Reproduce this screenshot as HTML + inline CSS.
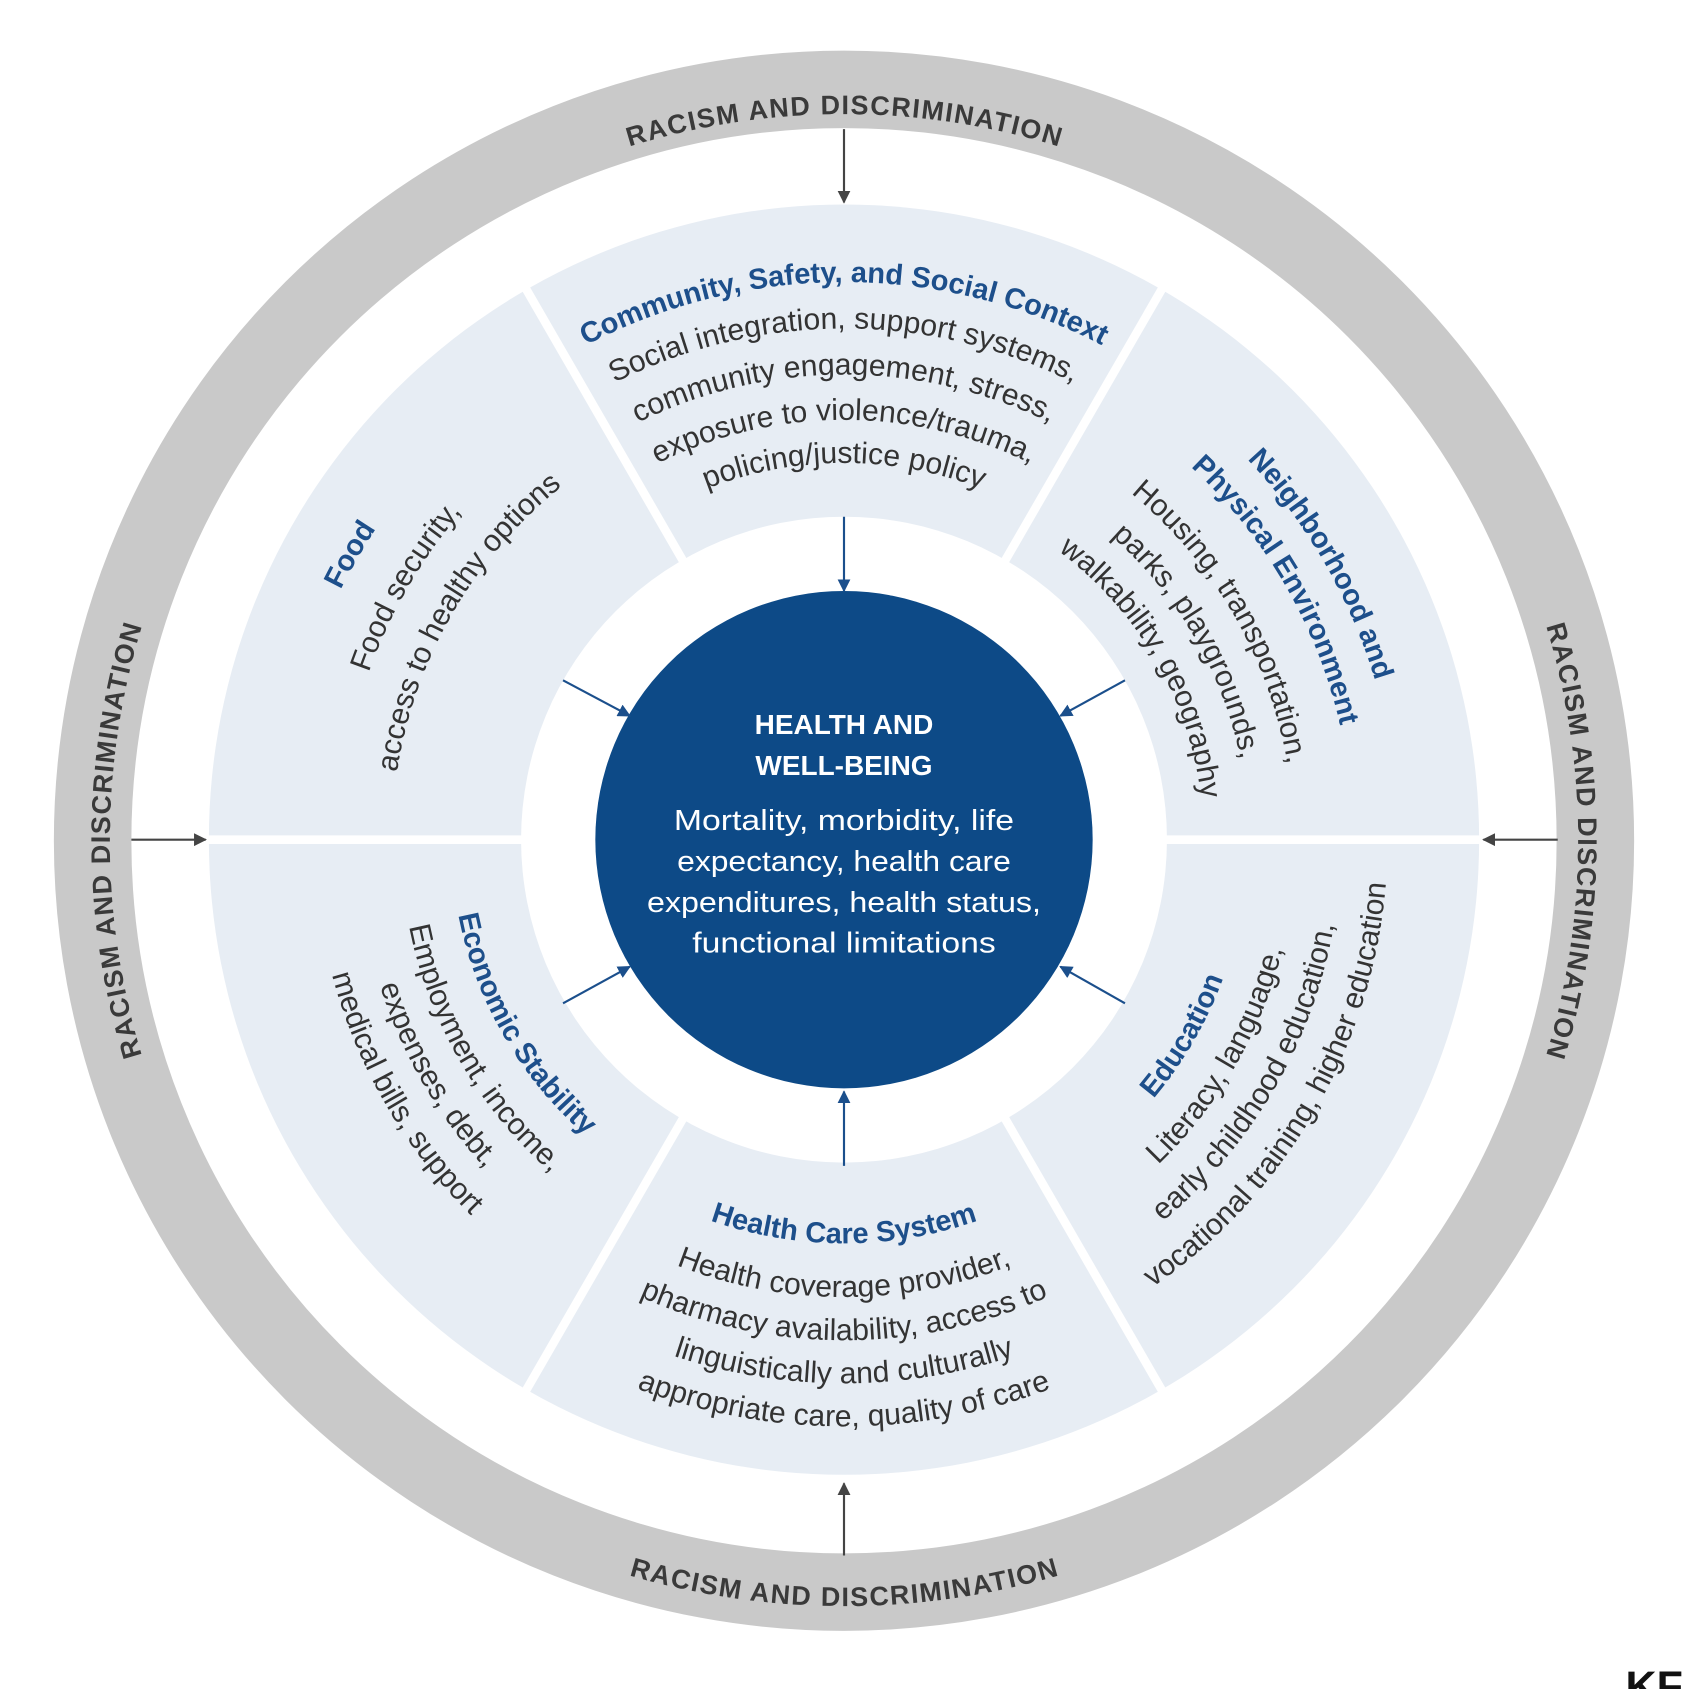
<!DOCTYPE html>
<html><head><meta charset="utf-8"><style>
html,body{margin:0;padding:0;background:#fff;}
svg{display:block;}
text{font-family:"Liberation Sans",sans-serif;}
.t{font-weight:bold;fill:#1d4f8b;font-size:27px;}
.b{fill:#333;font-size:28px;}
.r{font-weight:bold;fill:#3a3a3a;font-size:25px;}
</style></head><body>
<svg width="1688" height="1689" viewBox="0 0 1568 1569" xmlns="http://www.w3.org/2000/svg">
<defs>
<marker id="ag" viewBox="0 0 10 10" refX="9" refY="5" markerWidth="6" markerHeight="6" orient="auto"><path d="M0,0 L10,5 L0,10 z" fill="#444"/></marker>
<marker id="ab" viewBox="0 0 10 10" refX="9" refY="5" markerWidth="6" markerHeight="6" orient="auto"><path d="M0,0 L10,5 L0,10 z" fill="#1b4f8c"/></marker>
<path id="c675" d="M-675,0 A675,675 0 0 1 675,0"/>
<path id="c682" d="M-682,0 A682,682 0 0 1 682,0"/>
<path id="u711" d="M-711,0 A711,711 0 0 0 711,0"/>
<path id="c522" d="M-522,0 A522,522 0 0 1 522,0"/>
<path id="c518" d="M-518,0 A518,518 0 0 1 518,0"/>
<path id="c515" d="M-515,0 A515,515 0 0 1 515,0"/>
<path id="c475" d="M-475,0 A475,475 0 0 1 475,0"/>
<path id="c473" d="M-473,0 A473,473 0 0 1 473,0"/>
<path id="c468" d="M-468,0 A468,468 0 0 1 468,0"/>
<path id="c432" d="M-432,0 A432,432 0 0 1 432,0"/>
<path id="c420" d="M-420,0 A420,420 0 0 1 420,0"/>
<path id="c418" d="M-418,0 A418,418 0 0 1 418,0"/>
<path id="c390" d="M-390,0 A390,390 0 0 1 390,0"/>
<path id="c376" d="M-376,0 A376,376 0 0 1 376,0"/>
<path id="c350" d="M-350,0 A350,350 0 0 1 350,0"/>
<path id="c334" d="M-334,0 A334,334 0 0 1 334,0"/>
<path id="u365" d="M-365,0 A365,365 0 0 0 365,0"/>
<path id="u375" d="M-375,0 A375,375 0 0 0 375,0"/>
<path id="u412" d="M-412,0 A412,412 0 0 0 412,0"/>
<path id="u420" d="M-420,0 A420,420 0 0 0 420,0"/>
<path id="u425" d="M-425,0 A425,425 0 0 0 425,0"/>
<path id="u452" d="M-452,0 A452,452 0 0 0 452,0"/>
<path id="u462" d="M-462,0 A462,462 0 0 0 462,0"/>
<path id="u465" d="M-465,0 A465,465 0 0 0 465,0"/>
<path id="u492" d="M-492,0 A492,492 0 0 0 492,0"/>
<path id="u505" d="M-505,0 A505,505 0 0 0 505,0"/>
<path id="u545" d="M-545,0 A545,545 0 0 0 545,0"/>
</defs>
<rect width="1568" height="1569" fill="#fff"/>
<circle cx="784" cy="781" r="698" fill="none" stroke="#c9c9c9" stroke-width="72"/>
<g transform="translate(784,780)">
<circle r="590" fill="#e7edf4"/>
<g stroke="#fff" stroke-width="8">
<line x1="0" y1="0" x2="600" y2="0"/>
<line x1="0" y1="0" x2="-600" y2="0"/>
<line x1="0" y1="0" x2="300" y2="-519.6"/>
<line x1="0" y1="0" x2="-300" y2="-519.6"/>
<line x1="0" y1="0" x2="300" y2="519.6"/>
<line x1="0" y1="0" x2="-300" y2="519.6"/>
</g>
<circle r="300" fill="#fff"/>
<circle r="231" fill="#0d4a87"/>
</g>
<g stroke="#444" stroke-width="2">
<line x1="784" y1="120" x2="784" y2="188" marker-end="url(#ag)"/>
<line x1="784" y1="1445" x2="784" y2="1378" marker-end="url(#ag)"/>
<line x1="122" y1="780" x2="191" y2="780" marker-end="url(#ag)"/>
<line x1="1447" y1="780" x2="1378" y2="780" marker-end="url(#ag)"/>
</g>
<g stroke="#1b4f8c" stroke-width="2">
<line x1="784" y1="480" x2="784" y2="549" marker-end="url(#ab)"/>
<line x1="784" y1="1083" x2="784" y2="1014" marker-end="url(#ab)"/>
<line x1="523" y1="632" x2="585" y2="665" marker-end="url(#ab)"/>
<line x1="1045" y1="632" x2="985" y2="665" marker-end="url(#ab)"/>
<line x1="523" y1="932" x2="585" y2="898" marker-end="url(#ab)"/>
<line x1="1045" y1="932" x2="985" y2="898" marker-end="url(#ab)"/>
</g>
<g transform="translate(784,781)" text-anchor="middle">
<text class="r"><textPath href="#c675" startOffset="50%" textLength="405">RACISM AND DISCRIMINATION</textPath></text>
<g transform="rotate(-90)"><text class="r"><textPath href="#c682" startOffset="50%" textLength="405">RACISM AND DISCRIMINATION</textPath></text></g>
<g transform="rotate(90)"><text class="r"><textPath href="#c682" startOffset="50%" textLength="405">RACISM AND DISCRIMINATION</textPath></text></g>
<text class="r"><textPath href="#u711" startOffset="50%" textLength="405">RACISM AND DISCRIMINATION</textPath></text>
</g>
<g transform="translate(784,780)" text-anchor="middle">
<text class="t"><textPath href="#c518" startOffset="50%">Community, Safety, and Social Context</textPath></text>
<text class="b"><textPath href="#c475" startOffset="50%">Social integration, support systems,</textPath></text>
<text class="b"><textPath href="#c432" startOffset="50%">community engagement, stress,</textPath></text>
<text class="b"><textPath href="#c390" startOffset="50%">exposure to violence/trauma,</textPath></text>
<text class="b"><textPath href="#c350" startOffset="50%">policing/justice policy</textPath></text>
<g transform="rotate(-60)">
<text class="t"><textPath href="#c522" startOffset="50%">Food</textPath></text>
<text class="b"><textPath href="#c468" startOffset="50%">Food security,</textPath></text>
<text class="b"><textPath href="#c420" startOffset="50%">access to healthy options</textPath></text>
</g>
<g transform="rotate(60)">
<text class="t"><textPath href="#c515" startOffset="50%">Neighborhood and</textPath></text>
<text class="t"><textPath href="#c473" startOffset="50%">Physical Environment</textPath></text>
<text class="b"><textPath href="#c418" startOffset="50%">Housing, transportation,</textPath></text>
<text class="b"><textPath href="#c376" startOffset="50%">parks, playgrounds,</textPath></text>
<text class="b"><textPath href="#c334" startOffset="50%">walkability, geography</textPath></text>
</g>
<text class="t"><textPath href="#u375" startOffset="50%">Health Care System</textPath></text>
<text class="b"><textPath href="#u425" startOffset="50%">Health coverage provider,</textPath></text>
<text class="b"><textPath href="#u465" startOffset="50%">pharmacy availability, access to</textPath></text>
<text class="b"><textPath href="#u505" startOffset="50%">linguistically and culturally</textPath></text>
<text class="b"><textPath href="#u545" startOffset="50%">appropriate care, quality of care</textPath></text>
<g transform="rotate(60)">
<text class="t"><textPath href="#u365" startOffset="50%">Economic Stability</textPath></text>
<text class="b"><textPath href="#u412" startOffset="50%">Employment, income,</textPath></text>
<text class="b"><textPath href="#u452" startOffset="50%">expenses, debt,</textPath></text>
<text class="b"><textPath href="#u492" startOffset="50%">medical bills, support</textPath></text>
</g>
<g transform="rotate(-60)">
<text class="t"><textPath href="#u375" startOffset="50%">Education</textPath></text>
<text class="b"><textPath href="#u420" startOffset="50%">Literacy, language,</textPath></text>
<text class="b"><textPath href="#u462" startOffset="50%">early childhood education,</textPath></text>
<text class="b"><textPath href="#u505" startOffset="50%">vocational training, higher education</textPath></text>
</g>
</g>
<g text-anchor="middle" fill="#fff">
<text x="784" y="682" font-weight="bold" font-size="26">HEALTH AND</text>
<text x="784" y="720" font-weight="bold" font-size="26">WELL-BEING</text>
<text x="784" y="771" font-size="27" textLength="316" lengthAdjust="spacingAndGlyphs">Mortality, morbidity, life</text>
<text x="784" y="809" font-size="27" textLength="310" lengthAdjust="spacingAndGlyphs">expectancy, health care</text>
<text x="784" y="847" font-size="27" textLength="366" lengthAdjust="spacingAndGlyphs">expenditures, health status,</text>
<text x="784" y="885" font-size="27" textLength="282" lengthAdjust="spacingAndGlyphs">functional limitations</text>
</g>
<text x="1510" y="1580" font-weight="bold" font-size="40" fill="#111" font-family="Liberation Sans, sans-serif">KF</text>
</svg>
</body></html>
